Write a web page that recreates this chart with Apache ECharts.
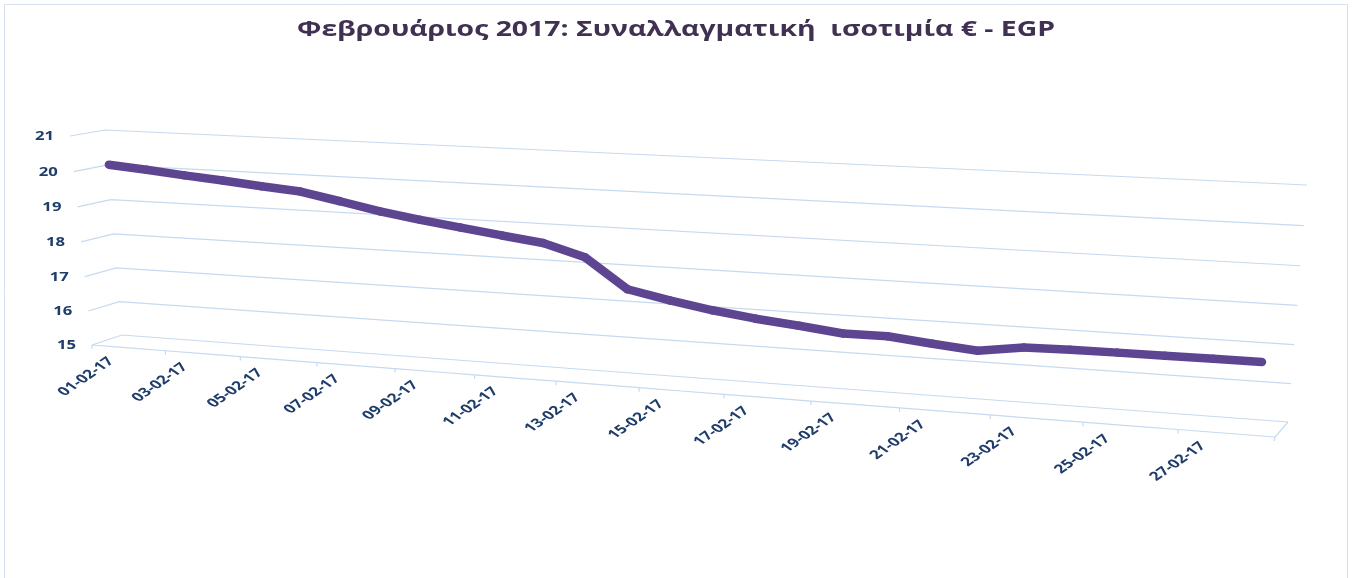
<!DOCTYPE html>
<html>
<head>
<meta charset="utf-8">
<script src="https://cdn.jsdelivr.net/npm/echarts@6/dist/echarts.min.js"></script>
<style>
  html, body { margin: 0; padding: 0; background: #fff; }
  #chart { width: 1352px; height: 578px; }
</style>
</head>
<body>
<div id="chart"></div>
<script>
// data
const dates = ['01-02-17', '02-02-17', '03-02-17', '04-02-17', '05-02-17', '06-02-17', '07-02-17',
  '08-02-17', '09-02-17', '10-02-17', '11-02-17', '12-02-17', '13-02-17', '14-02-17',
  '15-02-17', '16-02-17', '17-02-17', '18-02-17', '19-02-17', '20-02-17', '21-02-17',
  '22-02-17', '23-02-17', '24-02-17', '25-02-17', '26-02-17', '27-02-17', '28-02-17'];
const rates = [20.13, 20.04, 19.94, 19.85, 19.75, 19.66, 19.45, 19.23, 19.06, 18.91, 18.76, 18.62,
  18.30, 17.50, 17.27, 17.08, 16.93, 16.82, 16.69, 16.70, 16.58, 16.48, 16.65, 16.67,
  16.68, 16.68, 16.69, 16.69];
const yTicks = [15, 16, 17, 18, 19, 20, 21];
const titleText = 'Φεβρουάριος 2017: Συναλλαγματική  ισοτιμία € - EGP';

// 3D look: back wall corners (u,v) = (0,0) (1,0) (1,1) (0,1), and depth vectors to the front
const wall = [[122, 335], [1288, 422], [1307, 185], [105, 130]];
const depth = [[-30, 10], [-13, 15], [-14, 11], [-35, 6]];
const lineDepth = 0.5;

const GRID = '#c6daef';
const LABEL = '#1f3d6b';
const FONT = '"Open Sans", "Noto Sans", sans-serif';
const STRETCH = 1.45;

function squareToQuad(q) {
  const [x0, y0] = q[0], [x1, y1] = q[1], [x2, y2] = q[2], [x3, y3] = q[3];
  const dx1 = x1 - x2, dx2 = x3 - x2, dx3 = x0 - x1 + x2 - x3;
  const dy1 = y1 - y2, dy2 = y3 - y2, dy3 = y0 - y1 + y2 - y3;
  const den = dx1 * dy2 - dy1 * dx2;
  const g = (dx3 * dy2 - dy3 * dx2) / den;
  const h = (dx1 * dy3 - dy1 * dx3) / den;
  const a = x1 - x0 + g * x1, b = x3 - x0 + h * x3, c = x0;
  const d = y1 - y0 + g * y1, e = y3 - y0 + h * y3, f = y0;
  return (u, v) => {
    const z = g * u + h * v + 1;
    return [(a * u + b * v + c) / z, (d * u + e * v + f) / z];
  };
}
const back = squareToQuad(wall);

function project(u, v, w) {
  const p = back(u, v);
  const k = [(1 - u) * (1 - v), u * (1 - v), u * v, (1 - u) * v];
  let dx = 0, dy = 0;
  for (let i = 0; i < 4; i++) { dx += k[i] * depth[i][0]; dy += k[i] * depth[i][1]; }
  return [p[0] + w * dx, p[1] + w * dy];
}

// pixel from the hidden cartesian -> unit square
function toUV(pt, cs) {
  return [(pt[0] - cs.x) / cs.width, (cs.y + cs.height - pt[1]) / cs.height];
}

function label(text, x, y, size, rotation, align) {
  return {
    type: 'group', x: x, y: y, scaleX: STRETCH,
    children: [{
      type: 'text', rotation: rotation,
      style: { text: text, align: align, verticalAlign: 'middle', fill: LABEL,
        fontSize: size, fontWeight: 'bold', fontFamily: FONT }
    }]
  };
}

function renderWall(params, api) {
  const cs = params.coordSys;
  const val = yTicks[params.dataIndex];
  const v = toUV(api.coord([0, val]), cs)[1];
  const a = project(0, v, 1), b = project(0, v, 0), c = project(1, v, 0);
  return {
    type: 'group',
    children: [
      { type: 'polyline', shape: { points: [a, b, c] }, style: { stroke: GRID, lineWidth: 1.2, fill: null } },
      label(String(val), a[0] - 16, a[1] + 1, 11.5, 0, 'right')
    ]
  };
}

function renderFloor(params, api) {
  const cs = params.coordSys;
  const i = params.dataIndex;
  const u = toUV(api.coord([i, 15]), cs)[0];
  const hb = api.size([1, 0])[0] / 2 / cs.width;
  const f0 = project(u - hb, 0, 1), f1 = project(u + hb, 0, 1);
  const kids = [{ type: 'line', shape: { x1: f0[0], y1: f0[1], x2: f1[0], y2: f1[1] },
    style: { stroke: GRID, lineWidth: 1.2 } }];
  if (i % 2 === 0) {
    kids.push({ type: 'line', shape: { x1: f0[0], y1: f0[1], x2: f0[0], y2: f0[1] + 4 },
      style: { stroke: GRID, lineWidth: 1.2 } });
    const p = project(u, 0, 1);
    kids.push(label(dates[i], p[0] + 1, p[1] + 13, 12, Math.PI / 4, 'right'));
  }
  if (i === dates.length - 1) {
    const b1 = project(u + hb, 0, 0);
    kids.push({ type: 'polyline', shape: { points: [b1, f1, [f1[0] - 1, f1[1] + 4]] },
      style: { stroke: GRID, lineWidth: 1.2, fill: null } });
  }
  return { type: 'group', children: kids };
}

function renderLine(params, api) {
  const cs = params.coordSys;
  const i = params.dataIndex;
  if (i >= rates.length - 1) return null;
  const p = toUV(api.coord([i, rates[i]]), cs);
  const q = toUV(api.coord([i + 1, rates[i + 1]]), cs);
  const a = project(p[0], p[1], lineDepth), b = project(q[0], q[1], lineDepth);
  return {
    type: 'line', shape: { x1: a[0], y1: a[1], x2: b[0], y2: b[1] },
    style: { stroke: '#5d4592', lineWidth: 8.5, lineCap: 'round' }
  };
}

const chart = echarts.init(document.getElementById('chart'));
chart.setOption({
  animation: false,
  grid: { left: 0, right: 0, top: 0, bottom: 0 },
  xAxis: { type: 'category', data: dates, show: false },
  yAxis: { type: 'value', min: 15, max: 21, interval: 1, show: false },
  graphic: [
    { type: 'rect', shape: { x: 4.5, y: 4.5, width: 1343, height: 600 },
      style: { stroke: '#d5e1ee', fill: null, lineWidth: 1 }, silent: true },
    { type: 'text', x: 676, y: 30, scaleX: 1.35,
      style: { text: titleText, align: 'center', verticalAlign: 'middle', fill: '#403152',
        fontSize: 21, fontWeight: 'bold', fontFamily: FONT } }
  ],
  series: [
    { type: 'custom', name: 'wall', renderItem: renderWall, silent: true, z: 1,
      data: yTicks.map(v => [0, v]) },
    { type: 'custom', name: 'floor', renderItem: renderFloor, silent: true, z: 1,
      data: dates.map((d, i) => [i, 15]) },
    { type: 'custom', name: 'EUR/EGP', renderItem: renderLine, z: 3,
      data: rates.map((r, i) => [i, r]) }
  ]
});
window.addEventListener('resize', () => chart.resize());
</script>
</body>
</html>
